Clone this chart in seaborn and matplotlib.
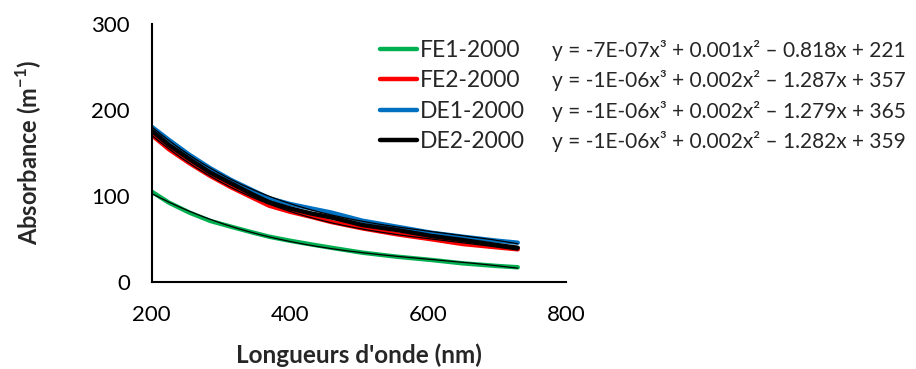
import numpy as np
import pandas as pd
import matplotlib
matplotlib.use("Agg")
import matplotlib.pyplot as plt
import seaborn as sns

# Wavelengths (nm) and measured absorbance (m-1) for each sample
wavelength = [200, 225, 255, 285, 315, 345, 370, 400, 430, 460, 505, 555, 605, 650, 700, 730]
fe1_2000 = [104.8, 92.0, 80.3, 70.7, 64.0, 57.5, 52.4, 47.7, 43.5, 39.5, 33.8, 29.1, 25.3, 21.4, 18.3, 16.8]
fe2_2000 = [170.8, 154.1, 137.8, 123.0, 109.9, 98.2, 88.5, 81.5, 75.7, 69.5, 62.1, 55.2, 49.4, 43.9, 40.0, 37.7]
de1_2000 = [180.4, 165.0, 147.5, 132.0, 118.4, 106.8, 97.1, 90.5, 85.4, 80.5, 71.0, 64.0, 57.0, 52.4, 47.7, 45.4]
de2_2000 = [175.8, 159.1, 142.5, 126.9, 114.5, 102.1, 92.4, 85.4, 79.6, 75.0, 66.0, 60.2, 53.2, 48.5, 42.7, 39.5]

series_names = ["FE1-2000", "FE2-2000", "DE1-2000", "DE2-2000"]
series_values = [fe1_2000, fe2_2000, de1_2000, de2_2000]
series_colors = ["#00B050", "#FF0000", "#0070C0", "#000000"]

# Cubic trendline equations shown next to the legend
equations = [
    "y = -7E-07x³ + 0.001x² – 0.818x + 221",
    "y = -1E-06x³ + 0.002x² – 1.287x + 357",
    "y = -1E-06x³ + 0.002x² – 1.279x + 365",
    "y = -1E-06x³ + 0.002x² – 1.282x + 359",
]

x_ticks = [200, 400, 600, 800]
y_ticks = [0, 100, 200, 300]

df = pd.concat(
    [pd.DataFrame({"wl": wavelength, "abs": vals, "sample": name})
     for name, vals in zip(series_names, series_values)],
    ignore_index=True,
)

sns.set_theme(style="white")
plt.rcParams["font.family"] = ["Lato", "DejaVu Sans"]
plt.rcParams["mathtext.fontset"] = "custom"
plt.rcParams["mathtext.rm"] = "Lato"
plt.rcParams["mathtext.bf"] = "Lato:bold"

fig = plt.figure(figsize=(9.16, 3.69), dpi=100)
ax = fig.add_axes([0.1656, 0.2366, 0.4524, 0.6984])

sns.lineplot(data=df, x="wl", y="abs", hue="sample", palette=series_colors,
             hue_order=series_names, linewidth=3.2, ax=ax, legend=True)

# Thin black cubic trendlines over each series
for vals in series_values:
    coef = np.polyfit(wavelength, vals, 3)
    xs = np.linspace(min(wavelength), max(wavelength), 200)
    ax.plot(xs, np.polyval(coef, xs), color="black", linewidth=0.9, zorder=5)

ax.set_xlim(200, 800)
ax.set_ylim(0, 300)
ax.set_xticks(x_ticks)
ax.set_yticks(y_ticks)
ax.tick_params(axis="both", which="both", direction="out", length=5.7, width=1.5,
               colors="black", labelsize=16)
ax.tick_params(axis="x", pad=11)
ax.tick_params(axis="y", pad=10)
for side in ["top", "right"]:
    ax.spines[side].set_visible(False)
for side in ["left", "bottom"]:
    ax.spines[side].set_color("black")
    ax.spines[side].set_linewidth(1.5)

ax.set_xlabel("Longueurs d'onde (nm)", fontsize=17.5, fontweight="bold", labelpad=13)
ax.set_ylabel(r"Absorbance (m$^{\mathbf{-1}}$)", fontsize=17, fontweight="bold", labelpad=34)

leg = ax.legend(loc="center left", bbox_to_anchor=(380 / 916, 1 - 96 / 369),
                bbox_transform=fig.transFigure, frameon=False, fontsize=16.5,
                handlelength=1.6, handletextpad=0.12, labelspacing=0.4,
                borderaxespad=0, borderpad=0)
for line in leg.get_lines():
    line.set_linewidth(3.2)

fig.canvas.draw()
renderer = fig.canvas.get_renderer()
inv = fig.transFigure.inverted()
for txt, eq in zip(leg.get_texts(), equations):
    bb = txt.get_window_extent(renderer)
    yc = inv.transform((0, (bb.y0 + bb.y1) / 2))[1]
    fig.text(552 / 916, yc, eq, fontsize=15, va="center", ha="left")

fig.savefig("out.png", dpi=100)
